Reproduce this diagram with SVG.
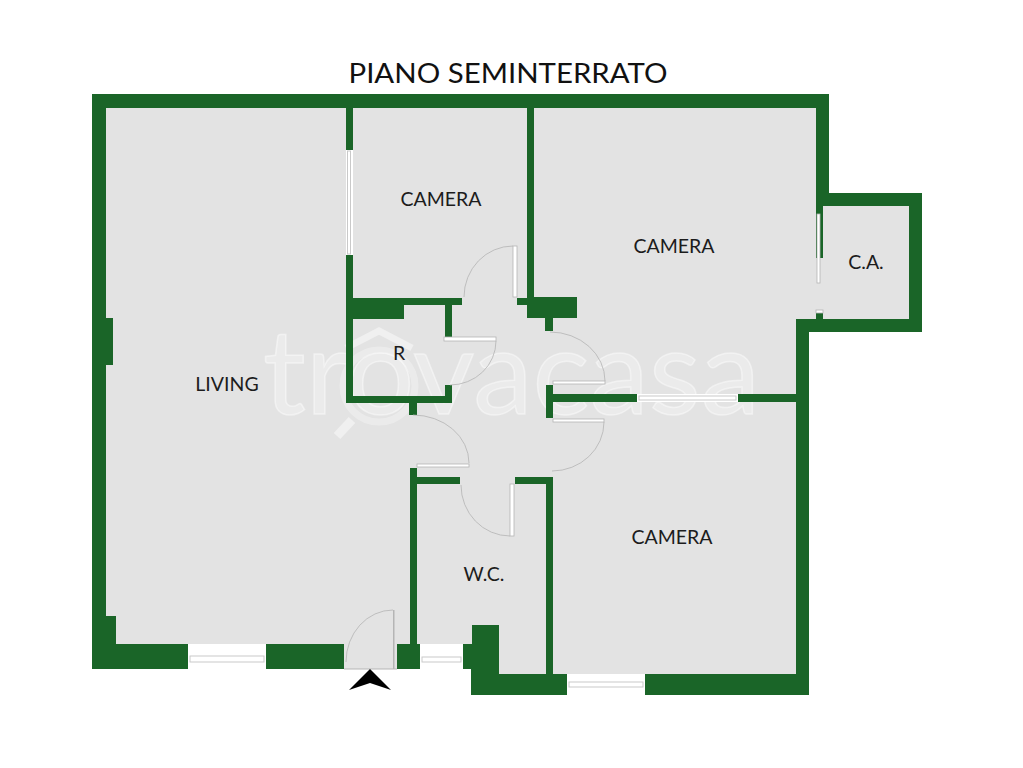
<svg xmlns="http://www.w3.org/2000/svg" width="1023" height="768" viewBox="0 0 1023 768">
<style>
.w{fill:#1a6528}
.win{fill:#fff}
.sash{fill:none;stroke:#c9c9c9;stroke-width:1}
.panel{fill:#fff;stroke:#b5b5b5;stroke-width:.8}
.arc{fill:none;stroke:#b4b4b4;stroke-width:.8}
.lbl{font-family:"Lato","Open Sans",sans-serif;fill:#1c1c1c;font-size:19.500px;text-anchor:middle}
.wm{font-family:"Lato","Open Sans",sans-serif;font-weight:400;font-size:118px;fill:#fff;fill-opacity:.28;stroke:#fff;stroke-opacity:.45;stroke-width:1.500}
</style>
<rect width="1023" height="768" fill="#fff"/>
<g id="floor">
<path d="M92 94H829V193H922V332H809V695H471V669H92Z" fill="#e3e3e3"/>
</g>
<g id="watermark">
<text class="wm" x="263" y="414" textLength="497" lengthAdjust="spacingAndGlyphs">trovacasa</text>
<path d="M346 348L379 331L412 348" fill="none" stroke="#fff" stroke-opacity=".45" stroke-width="7"/>
<path d="M352 420L337 436" fill="none" stroke="#fff" stroke-opacity=".45" stroke-width="9"/>
<circle cx="379" cy="386" r="36" fill="none" stroke="#fff" stroke-opacity=".3" stroke-width="7"/>
</g>
<g id="walls">
<path class="w" d="M92 94H829V193H922V332H809V695H471V669H463V644H472V625H499V674H546V484H515V477H553V674H796V402H553V418H546V385H553V394H796V319H909V206H816V108H534V297H577V318H553V331H545V318H527V305H517V298H527V108H353V150H346V108H106V318H113V365H106V616H116V644H344V669H92Z"/>
<rect class="w" x="346" y="255" width="7" height="148"/>
<rect class="w" x="353" y="298" width="109" height="7"/>
<rect class="w" x="353" y="305" width="51" height="14"/>
<rect class="w" x="445" y="305" width="7" height="32"/>
<rect class="w" x="353" y="396" width="99" height="7"/>
<rect class="w" x="445" y="385" width="7" height="11"/>
<rect class="w" x="409" y="403" width="8" height="12"/>
<rect class="w" x="410" y="468" width="7" height="176"/>
<rect class="w" x="417" y="477" width="43" height="7"/>
<rect class="w" x="397" y="644" width="23" height="25"/>
<rect class="w" x="816" y="206" width="7" height="52"/>
<rect class="w" x="816" y="313" width="7" height="6"/>
</g>
<g id="windows">
<rect class="win" x="188" y="644" width="78" height="25"/>
<rect class="sash" x="190" y="656" width="74" height="6"/>
<rect class="win" x="420" y="644" width="43" height="25"/>
<rect class="sash" x="422" y="657" width="39" height="5"/>
<rect class="win" x="567" y="674" width="78" height="21"/>
<rect class="sash" x="569" y="682" width="74" height="5"/>
<rect class="win" x="346" y="150" width="7" height="105"/>
<rect class="sash" x="347.500" y="151" width="3" height="103"/>
<rect class="win" x="637" y="394" width="101" height="8"/>
<rect class="sash" x="639" y="396" width="97" height="4"/>
</g>
<g id="doors">
<rect class="panel" x="513" y="246" width="4" height="51"/>
<path class="arc" d="M513 246A49 51 0 0 0 464 297"/>
<rect class="panel" x="444" y="337" width="52" height="4"/>
<path class="arc" d="M496 341A46 44 0 0 1 450 385"/>
<rect class="panel" x="553" y="381" width="52" height="3"/>
<path class="arc" d="M605 381A55 49 0 0 0 550 332"/>
<rect class="panel" x="553" y="419" width="51" height="3"/>
<path class="arc" d="M604 422A52 49 0 0 1 552 471"/>
<rect class="panel" x="417" y="464" width="52" height="3"/>
<path class="arc" d="M469 463A56 48 0 0 0 413 415"/>
<rect class="panel" x="510" y="484" width="4" height="52"/>
<path class="arc" d="M510 536A49 51 0 0 1 461 485"/>
<rect x="393" y="610" width="1.500" height="59" fill="#b5b5b5"/>
<path class="arc" d="M393 610A47 52 0 0 0 346 662"/>
<rect x="344" y="668.500" width="53" height="1" fill="#b5b5b5"/>
<rect class="panel" x="817" y="214" width="3" height="69"/>
<rect class="panel" x="816" y="310" width="7" height="3"/>
</g>
<polygon id="entrance-arrow" points="370,669 391,690 370,683 349,690" fill="#000"/>
<g id="labels">
<text x="508" y="83" text-anchor="middle" style="font-family:'Lato','Open Sans',sans-serif;font-size:27px;fill:#111" textLength="319" lengthAdjust="spacingAndGlyphs">PIANO SEMINTERRATO</text>
<text class="lbl" x="441" y="206">CAMERA</text>
<text class="lbl" x="674" y="253">CAMERA</text>
<text class="lbl" x="866" y="269">C.A.</text>
<text class="lbl" x="399" y="360">R</text>
<text class="lbl" x="227" y="391">LIVING</text>
<text class="lbl" x="672" y="544">CAMERA</text>
<text class="lbl" x="484" y="581">W.C.</text>
</g>
</svg>
